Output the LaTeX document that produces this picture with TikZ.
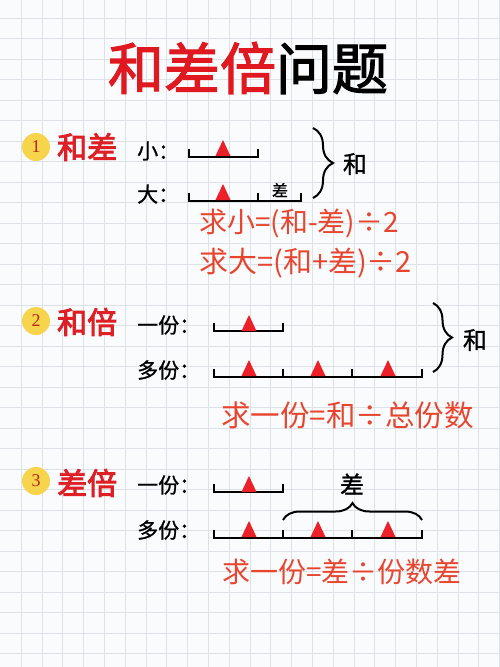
\documentclass[tikz,border=0pt]{standalone}
\usepackage{fontspec}
\newfontfamily\cjk{Noto Sans CJK SC}
\newfontfamily\cjkm[FakeBold=1]{Noto Sans CJK SC}
\newfontfamily\cjkb[FakeBold=2]{Noto Sans CJK SC}
\newfontfamily\cjkh[FakeBold=3]{Noto Sans CJK SC}
\newfontfamily\numfont{Liberation Serif}
\usetikzlibrary{decorations.pathreplacing}
\definecolor{titlered}{HTML}{E01820}
\definecolor{headred}{HTML}{DD1F26}
\definecolor{trired}{HTML}{EC2028}
\definecolor{penred}{HTML}{E8452F}
\definecolor{gridc}{HTML}{DCE2E8}
\definecolor{bgc}{HTML}{F9FBFC}
\definecolor{coinc}{HTML}{F6D44C}
\definecolor{numred}{HTML}{B8261E}
\newcommand\mytri[2]{\fill[trired] (#1-7.5,#2) -- (#1,#2-16) -- (#1+7.5,#2) -- cycle;}
\begin{document}
\begin{tikzpicture}[x=1pt,y=-1pt,
  gridline/.style={draw=gridc, line width=0.9pt},
  bar/.style={line width=2pt, line join=miter},
  lab/.style={font=\cjkm\fontsize{21}{21}\selectfont, anchor=west, inner sep=0pt},
  head/.style={font=\cjkh\fontsize{30}{30}\selectfont, text=headred, anchor=west, inner sep=0pt},
  pen/.style={font=\cjk\fontsize{28}{28}\selectfont, text=penred, anchor=west, inner sep=0pt},
  coin/.style={circle, fill=coinc, minimum size=28pt, inner sep=0pt, font=\numfont\fontsize{18}{18}\selectfont, text=numred},
  sumlab/.style={font=\cjkm\fontsize{24}{24}\selectfont, inner sep=0pt},
  brc/.style={decorate, decoration={brace, amplitude=#1}, line width=2pt}]
\fill[bgc] (0,0) rectangle (500,667);
\useasboundingbox (0,0) rectangle (500,667);
\foreach \i in {1,...,24} \draw[gridline] (\i*20.8+0.5,0) -- (\i*20.8+0.5,667);
\foreach \j in {0,...,31} \draw[gridline] (0,18+\j*20.5) -- (500,18+\j*20.5);
% title
\node[font=\cjkb\fontsize{56}{56}\selectfont, inner sep=0pt] (title) at (248,68) {\textcolor{titlered}{和差倍}问题};
% section 1
\node[coin] (c1) at (36,147) {1};
\node[head] (h1) at (57,147) {和差};
\node[lab] (small) at (137,151) {小：};
\node[lab] (big) at (137,194) {大：};
\draw[bar] (189,148.5) -- (189,156.5) -- (258,156.5) -- (258,148.5);
\mytri{223}{156}
\draw[bar] (189,192.5) -- (189,200.5) -- (301,200.5) -- (301,192.5);
\draw[bar] (258,192.5) -- (258,200.5);
\mytri{223}{200}
\node[font=\cjkm\fontsize{16}{16}\selectfont, inner sep=0pt] (diff1) at (280,190) {差};
\coordinate (b1a) at (313,128);
\coordinate (b1b) at (313,198);
\draw[brc=20] (b1a) -- (b1b);
\node[sumlab] (sum1) at (355,164) {和};
\node[pen] (f1) at (199,223) {求小=(和-差)÷2};
\node[pen, font=\cjk\fontsize{29}{29}\selectfont] (f2) at (199,263) {求大=(和+差)÷2};
% section 2
\node[coin] (c2) at (36,321) {2};
\node[head] (h2) at (57,322) {和倍};
\node[lab] (one2) at (137,325) {一份：};
\node[lab] (many2) at (137,370) {多份：};
\draw[bar] (214,323) -- (214,331) -- (283,331) -- (283,323);
\mytri{249}{331}
\draw[bar] (214,368.5) -- (214,376.5) -- (422,376.5) -- (422,368.5);
\draw[bar] (283,368.5) -- (283,376.5);
\draw[bar] (352,368.5) -- (352,376.5);
\mytri{249}{376}
\mytri{318}{376}
\mytri{388}{376}
\coordinate (b2a) at (433,303);
\coordinate (b2b) at (433,372);
\draw[brc=19] (b2a) -- (b2b);
\node[sumlab] (sum2) at (475,340) {和};
\node[pen, font=\cjk\fontsize{29.5}{29.5}\selectfont] (f3) at (221,415) {求一份=和÷总份数};
% section 3
\node[coin] (c3) at (36,481) {3};
\node[head] (h3) at (57,483) {差倍};
\node[lab] (one3) at (137,485) {一份：};
\node[lab] (many3) at (137,530) {多份：};
\draw[bar] (214,484) -- (214,492) -- (283,492) -- (283,484);
\mytri{249}{492}
\draw[bar] (214,529.5) -- (214,537.5) -- (422,537.5) -- (422,529.5);
\draw[bar] (283,529.5) -- (283,537.5);
\draw[bar] (352,529.5) -- (352,537.5);
\mytri{249}{537}
\mytri{318}{537}
\mytri{388}{537}
\coordinate (b3a) at (283,520);
\coordinate (b3b) at (422,520);
\draw[brc=17] (b3a) -- (b3b);
\node[sumlab] (diff3) at (352,484) {差};
\node[pen] (f4) at (222,572) {求一份=差÷份数差};
\end{tikzpicture}
\end{document}
